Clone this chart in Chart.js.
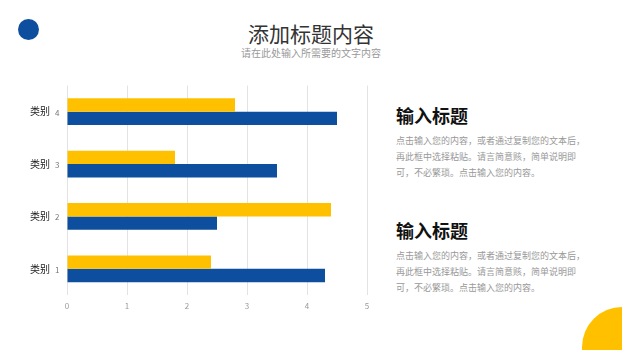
<!DOCTYPE html>
<html>
<head>
<meta charset="utf-8">
<script src="https://cdn.jsdelivr.net/npm/chart.js@4"></script>
<style>
    body { margin: 0; width: 622px; height: 350px; background: #fff; position: relative; overflow: hidden; font-family: "Noto Sans CJK SC", "Noto Sans", sans-serif; }
    .dot { position: absolute; left: 18px; top: 19px; width: 21px; height: 21px; border-radius: 50%; background: #0d4f9e; }
    .sun { position: absolute; left: 582px; top: 307px; width: 80px; height: 80px; border-radius: 50%; background: #ffc000; }
    .title { position: absolute; left: 0; width: 622px; top: 19px; text-align: center; font-size: 21px; color: #333; line-height: 28px; }
    .subtitle { position: absolute; left: 0; width: 622px; top: 46px; text-align: center; font-size: 10px; color: #999; line-height: 14px; }
    .block { position: absolute; left: 396px; width: 220px; }
    .block h2 { margin: 0; font-size: 18px; font-weight: bold; color: #111; line-height: 24px; }
    .block p { margin: 6px 0 0 0; font-size: 9px; color: #999; line-height: 16px; white-space: nowrap; }
    #wrap { position: absolute; left: 20px; top: 80px; width: 360px; height: 240px; }
</style>
</head>
<body>
<div class="dot"></div>
<div class="sun"></div>
<div class="title">添加标题内容</div>
<div class="subtitle">请在此处输入所需要的文字内容</div>
<div class="block" style="top: 103px;">
    <h2>输入标题</h2>
    <p>点击输入您的内容，或者通过复制您的文本后，<br>再此框中选择粘贴。请言简意赅，简单说明即<br>可，不必繁琐。点击输入您的内容。</p>
</div>
<div class="block" style="top: 218px;">
    <h2>输入标题</h2>
    <p>点击输入您的内容，或者通过复制您的文本后，<br>再此框中选择粘贴。请言简意赅，简单说明即<br>可，不必繁琐。点击输入您的内容。</p>
</div>
<div id="wrap"><canvas id="barGraph"></canvas></div>
<script>
var categoryNames = ["类别", "类别", "类别", "类别"];
var categoryNumbers = ["4", "3", "2", "1"];
var yellowValues = [2.8, 1.8, 4.4, 2.4];
var blueValues = [4.5, 3.5, 2.5, 4.3];
var xTicks = [0, 1, 2, 3, 4, 5];

var blueColor = "#0d4f9e";
var yellowColor = "#ffc000";

// y labels: dark name + grey number, drawn at the scale's tick positions
var categoryLabelPlugin = {
    id: "categoryLabels",
    afterDraw: function (chart) {
        var ctx = chart.ctx;
        var yScale = chart.scales.y;
        ctx.save();
        ctx.textBaseline = "middle";
        for (var i = 0; i < categoryNames.length; i++) {
            var y = yScale.getPixelForTick(i);
            ctx.font = "10px 'Noto Sans CJK SC'";
            ctx.fillStyle = "#222";
            ctx.textAlign = "left";
            ctx.fillText(categoryNames[i], 10, y);
            ctx.font = "8px 'Noto Sans CJK SC'";
            ctx.fillStyle = "#777";
            ctx.fillText(categoryNumbers[i], 35, y + 1);
        }
        ctx.restore();
    },
};

var graphData = {
    labels: categoryNumbers,
    datasets: [
        { label: "yellow", data: yellowValues, backgroundColor: yellowColor },
        { label: "blue", data: blueValues, backgroundColor: blueColor },
    ],
};

var config = {
    type: "bar",
    data: graphData,
    options: {
        indexAxis: "y",
        responsive: true,
        maintainAspectRatio: false,
        animation: false,
        layout: { padding: { top: 5.5, right: 13, left: 0, bottom: 0 } },
        datasets: { bar: { barPercentage: 1, categoryPercentage: 0.51 } },
        plugins: { legend: { display: false }, tooltip: { enabled: false } },
        scales: {
            x: {
                min: 0,
                max: 5,
                afterBuildTicks: function (scale) {
                    scale.ticks = xTicks.map(function (v) { return { value: v }; });
                },
                afterFit: function (scale) { scale.height = 25; },
                grid: { color: "#e3e3e3", drawTicks: false },
                border: { display: false },
                ticks: { color: "#999", font: { size: 8, family: "Noto Sans CJK SC" }, padding: 6 },
            },
            y: {
                afterFit: function (scale) { scale.width = 47; },
                grid: { display: false },
                border: { display: false },
                ticks: { display: false },
            },
        },
    },
    plugins: [categoryLabelPlugin],
};

var barGraph = new Chart("barGraph", config);
</script>
</body>
</html>
